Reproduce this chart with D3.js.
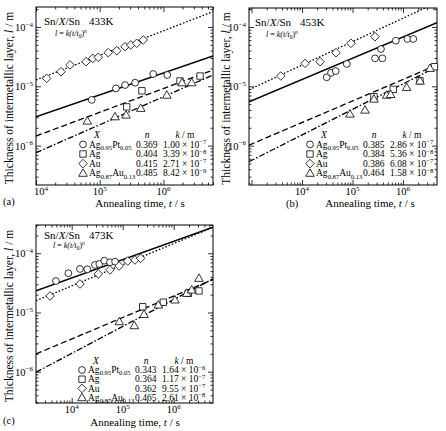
<!DOCTYPE html>
<html>
<head>
<meta charset="utf-8">
<script src="https://cdn.jsdelivr.net/npm/d3@7"></script>
<style>
  body { margin: 0; background: #fff; }
  svg text { font-family: "Liberation Serif", "Times New Roman", serif; fill: #000; }
</style>
</head>
<body>
<svg id="fig" width="446" height="431"></svg>
<script>
// ---- data ----
const series = ["AgPt", "Ag", "Au", "AgAu"];
const seriesLabel = [["Ag", "0.95", "Pt", "0.05"], ["Ag"], ["Au"], ["Ag", "0.87", "Au", "0.13"]];
const temps = ["433K", "453K", "473K"];
const tags = ["(a)", "(b)", "(c)"];
const xExps = [4, 5, 6];
const yExps = [-4, -5, -6];

const nVals = [["0.369", "0.404", "0.415", "0.485"],
               ["0.385", "0.384", "0.386", "0.464"],
               ["0.343", "0.364", "0.362", "0.465"]];
const kMant = [["1.00", "3.39", "2.71", "8.42"],
               ["2.86", "5.36", "6.08", "1.58"],
               ["1.64", "1.17", "9.55", "2.61"]];
const kExp = [["−7", "−8", "−7", "−9"],
              ["−7", "−8", "−7", "−8"],
              ["−6", "−7", "−7", "−8"]];

// [t (s), l (m)]
const a_AgPt = [[7.5e4, 5.9e-6], [1.8e5, 9.2e-6], [2.5e5, 1.05e-5], [3.6e5, 1.15e-5], [6.9e5, 1.61e-5], [1.15e6, 1.55e-5]];
const a_Ag = [[2.65e5, 4.5e-6], [4.6e5, 8.4e-6], [1.82e6, 1.23e-5], [3.76e6, 1.49e-5]];
const a_Au = [[1.47e4, 1.36e-5], [2.47e4, 1.76e-5], [3.42e4, 2.29e-5], [6.1e4, 2.6e-5], [7.8e4, 2.96e-5], [9.5e4, 3.08e-5],
              [1.36e5, 3.69e-5], [1.85e5, 3.98e-5], [2.5e5, 4.66e-5], [3.07e5, 4.97e-5], [3.81e5, 5.31e-5], [4.83e5, 6.04e-5]];
const a_AgAu = [[6.4e4, 2.6e-6], [1.74e5, 3.07e-6], [2.59e5, 3.28e-6], [4.4e5, 4.26e-6], [1.13e6, 7.1e-6], [1.96e6, 1.15e-5], [2.78e6, 1.15e-5]];
const a_fit = [[[1e4, 3.07e-6], [6e6, 3.24e-5]], [[1e4, 1.45e-6], [6e6, 1.88e-5]],
               [[1e4, 1.28e-5], [6e6, 1.81e-4]], [[1e4, 7.6e-7], [6e6, 1.55e-5]]];

const b_AgPt = [[3.08e4, 1.42e-5], [3.75e4, 1.69e-5], [4.64e4, 1.81e-5], [7.7e4, 2.38e-5], [2.79e5, 2.96e-5],
                [3.9e5, 2.96e-5], [3.66e5, 4.25e-5], [7.2e5, 5.88e-5], [1.22e6, 6.28e-5], [1.6e6, 6.28e-5]];
const b_Ag = [[2.66e5, 6.68e-6], [6.4e5, 8.9e-6], [2.17e6, 1.24e-5], [4.2e6, 2.14e-5]];
const b_Au = [[3.8e3, 1.49e-5], [1.15e4, 2.44e-5], [2.27e4, 2.6e-5], [4.7e4, 3.69e-5], [9.3e4, 5.31e-5], [2.79e5, 6.86e-5]];
const b_AgAu = [[8.9e4, 3.41e-6], [1.77e5, 3.98e-6], [2.66e5, 6.1e-6], [4.75e5, 7.1e-6], [5.7e5, 7.3e-6],
                [1.18e6, 9.6e-6], [2.17e6, 1.23e-5], [3.42e6, 2.01e-5]];
const b_fit = [[[891, 5.5e-6], [4.71e6, 1.18e-4]], [[891, 1.02e-6], [4.71e6, 2.29e-5]],
               [[891, 8.77e-6], [2.72e6, 2.09e-4]], [[891, 5.36e-7], [4.71e6, 2.14e-5]]];

const c_AgPt = [[4.9e3, 3.4e-5], [8.6e3, 4.6e-5], [1.45e4, 5.43e-5], [2.02e4, 5.37e-5], [2.86e4, 6.34e-5],
                [3.48e4, 6.59e-5], [4.36e4, 7.5e-5], [5.64e4, 7.05e-5], [7.1e4, 7.2e-5]];
const c_Ag = [[2.47e5, 1.25e-5], [6.25e5, 1.49e-5], [1.93e6, 2.11e-5], [3.13e6, 2.31e-5]];
const c_Au = [[3.76e3, 1.9e-5], [1.45e4, 3.03e-5], [3.33e4, 4.47e-5], [5.64e4, 5.23e-5], [8.5e4, 6.1e-5],
              [1.25e5, 7.4e-5], [1.74e5, 7.7e-5], [2.25e5, 8.2e-5]];
const c_AgAu = [[8.6e4, 7e-6], [1.69e5, 6e-6], [2.62e5, 9.3e-6], [5e5, 1.34e-5], [1.06e6, 1.63e-5],
                [1.8e6, 2.11e-5], [2.25e6, 2.4e-5], [3.13e6, 3.78e-5]];
const c_fit = [[[1995, 2.33e-5], [5.9e6, 2.76e-4]], [[1995, 1.99e-6], [5.9e6, 3.6e-5]],
               [[1995, 1.58e-5], [5.9e6, 2.75e-4]], [[1995, 9.8e-7], [5.9e6, 3.7e-5]]];

const points = [[a_AgPt, a_Ag, a_Au, a_AgAu], [b_AgPt, b_Ag, b_Au, b_AgAu], [c_AgPt, c_Ag, c_Au, c_AgAu]];
const fits = [a_fit, b_fit, c_fit];

// ---- layout ----
const panels = [
  { box: [36, 213, 7, 185], tDom: [1e4, 6e6], lDom: [2.17e-7, 2.17e-4],
    yTitleX: 13, xTitleX: 140, tickY: 195, xTitleY: 206.5, tagX: 3, tagY: 205,
    headX: 44, headY: 25, formX: 55, formY: 36, legX: 83, legY: 138, legDy: 9.6 },
  { box: [249, 437, 8, 185], tDom: [891, 4.71e6], lDom: [2.17e-7, 2.09e-4],
    yTitleX: 230, xTitleX: 370, tickY: 195, xTitleY: 206.5, tagX: 286, tagY: 207,
    headX: 255, headY: 26, formX: 266, formY: 37, legX: 310, legY: 138, legDy: 9.6 },
  { box: [36, 213, 225, 403], tDom: [1995, 5.9e6], lDom: [2.96e-7, 3.0e-4],
    yTitleX: 13, xTitleX: 135, tickY: 413, xTitleY: 425.5, tagX: 3, tagY: 424,
    headX: 44, headY: 239, formX: 53, formY: 248, legX: 82, legY: 364, legDy: 9.2 }
];

const dashes = { AgPt: null, Ag: "6,3", Au: "1.6,1.9", AgAu: "6,2,1.6,2" };

const svg = d3.select("#fig");

function symbolPath(type) {
  const p = d3.path();
  if (type === "AgPt") { p.arc(0, 0, 3.4, 0, 2 * Math.PI); }
  else if (type === "Ag") { p.rect(-3.2, -3.2, 6.4, 6.4); }
  else if (type === "Au") { p.moveTo(0, -4.3); p.lineTo(4.3, 0); p.lineTo(0, 4.3); p.lineTo(-4.3, 0); p.closePath(); }
  else { p.moveTo(0, -4.4); p.lineTo(4.3, 3.1); p.lineTo(-4.3, 3.1); p.closePath(); }
  return p.toString();
}

function sup(text, base, s, size, dy) {
  // base + raised small text
  text.append("tspan").text(base);
  text.append("tspan").attr("font-size", size).attr("dy", dy).text(s);
}

panels.forEach((p, pi) => {
  const [x0, x1, y0, y1] = p.box;
  const x = d3.scaleLog().domain(p.tDom).range([x0, x1]);
  const y = d3.scaleLog().domain(p.lDom).range([y1, y0]);
  const g = svg.append("g");

  const clipId = "clip" + pi;
  g.append("clipPath").attr("id", clipId)
    .append("rect").attr("x", x0).attr("y", y0).attr("width", x1 - x0).attr("height", y1 - y0);

  const isMajor = v => Math.abs(Math.log10(v) - Math.round(Math.log10(v))) < 1e-9;
  const xt = x.ticks(), yt = y.ticks();
  const xMaj = xt.filter(isMajor), yMaj = yt.filter(isMajor);
  const xMin = xt.filter(v => !isMajor(v)), yMin = yt.filter(v => !isMajor(v));

  const axes = [
    [d3.axisBottom(x), y1, "x"], [d3.axisTop(x), y0, "x"],
    [d3.axisLeft(y), x0, "y"], [d3.axisRight(y), x1, "y"]
  ];
  axes.forEach(([ax, pos, dim]) => {
    [[dim === "x" ? xMin : yMin, 2.5], [dim === "x" ? xMaj : yMaj, 5]].forEach(([vals, len]) => {
      const a = g.append("g")
        .attr("transform", dim === "x" ? `translate(0,${pos})` : `translate(${pos},0)`)
        .call(ax.tickValues(vals).tickSize(-len).tickFormat(""));
      a.select(".domain").remove();
      a.selectAll("line").attr("stroke", "#000").attr("stroke-width", 0.8);
    });
  });

  g.append("rect").attr("x", x0).attr("y", y0).attr("width", x1 - x0).attr("height", y1 - y0)
    .attr("fill", "none").attr("stroke", "#000").attr("stroke-width", 1);

  // tick labels
  xExps.forEach(e => {
    const v = Math.pow(10, e);
    const px = x(v) + (x(v) - x0 < 3 ? 5 : 0);
    const t = g.append("text").attr("x", px).attr("y", p.tickY).attr("text-anchor", "middle").attr("font-size", 10.5);
    sup(t, "10", String(e), 7, -4.3);
  });
  yExps.forEach(e => {
    const v = Math.pow(10, e);
    const t = g.append("text").attr("x", x0 - 3).attr("y", y(v) + 4).attr("text-anchor", "end").attr("font-size", 10.5);
    sup(t, "10", "−" + Math.abs(e), 7, -4.3);
  });

  // axis titles
  const yt1 = g.append("text").attr("transform", `translate(${p.yTitleX},${(y0 + y1) / 2 + 2}) rotate(-90)`)
    .attr("text-anchor", "middle").attr("font-size", 11.5);
  yt1.append("tspan").text("Thickness of intermetallic layer, ");
  yt1.append("tspan").attr("font-style", "italic").text("l");
  yt1.append("tspan").text(" / m");

  const xt1 = g.append("text").attr("x", p.xTitleX).attr("y", p.xTitleY).attr("text-anchor", "middle").attr("font-size", 11);
  xt1.append("tspan").text("Annealing time, ");
  xt1.append("tspan").attr("font-style", "italic").text("t");
  xt1.append("tspan").text(" / s");

  g.append("text").attr("x", p.tagX).attr("y", p.tagY).attr("font-size", 10.5).text(tags[pi]);

  // heading and growth law
  const h = g.append("text").attr("x", p.headX).attr("y", p.headY).attr("font-size", 11);
  h.append("tspan").text("Sn/");
  h.append("tspan").attr("font-style", "italic").text("X");
  h.append("tspan").text("/Sn");
  h.append("tspan").attr("dx", 9).text(temps[pi]);

  const f = g.append("text").attr("x", p.formX).attr("y", p.formY).attr("font-size", 8).attr("font-style", "italic");
  f.append("tspan").text("l");
  f.append("tspan").attr("font-style", "normal").text(" = ");
  f.append("tspan").text("k(t/t");
  f.append("tspan").attr("font-size", 5.5).attr("dy", 1.8).attr("font-style", "normal").text("0");
  f.append("tspan").attr("dy", -1.8).attr("font-style", "normal").text(")");
  f.append("tspan").attr("font-size", 5.5).attr("dy", -3.2).text("n");

  // fit lines
  const line = d3.line().x(d => x(d[0])).y(d => y(d[1]));
  const lg = g.append("g").attr("clip-path", `url(#${clipId})`);
  fits[pi].forEach((seg, si) => {
    lg.append("path").attr("d", line(seg)).attr("fill", "none").attr("stroke", "#000")
      .attr("stroke-width", si === 0 ? 1.5 : 1.3)
      .attr("stroke-dasharray", dashes[series[si]]);
  });

  // data markers
  points[pi].forEach((pts, si) => {
    g.append("g").selectAll("path").data(pts).join("path")
      .attr("transform", d => `translate(${x(d[0])},${y(d[1])})`)
      .attr("d", symbolPath(series[si]))
      .attr("fill", "#fff").attr("stroke", "#000").attr("stroke-width", 0.8);
  });

  // legend table
  const lx = p.legX, ly = p.legY, dy = p.legDy;
  const fs = 9.5;
  g.append("text").attr("x", lx + 14).attr("y", ly).attr("font-size", fs).attr("font-style", "italic").attr("text-anchor", "middle").text("X");
  g.append("text").attr("x", lx + 64).attr("y", ly).attr("font-size", fs).attr("font-style", "italic").attr("text-anchor", "middle").text("n");
  const kh = g.append("text").attr("x", lx + 102).attr("y", ly).attr("font-size", fs).attr("text-anchor", "middle");
  kh.append("tspan").attr("font-style", "italic").text("k");
  kh.append("tspan").text(" / m");

  series.forEach((s, si) => {
    const ry = ly + dy * (si + 1);
    g.append("path").attr("transform", `translate(${lx},${ry - 3.2})`).attr("d", symbolPath(s))
      .attr("fill", "#fff").attr("stroke", "#000").attr("stroke-width", 0.8);
    const nm = g.append("text").attr("x", lx + 6).attr("y", ry).attr("font-size", fs);
    seriesLabel[si].forEach((part, j) => {
      if (j % 2 === 0) nm.append("tspan").attr("dy", j === 0 ? 0 : -2.2).text(part);
      else nm.append("tspan").attr("font-size", 6.6).attr("dy", 2.2).text(part);
    });
    g.append("text").attr("x", lx + 53).attr("y", ry).attr("font-size", fs).text(nVals[pi][si]);
    const kt = g.append("text").attr("x", lx + 80).attr("y", ry).attr("font-size", fs);
    sup(kt, kMant[pi][si] + " × 10", kExp[pi][si], 6.6, -3.5);
  });
});
</script>
</body>
</html>
